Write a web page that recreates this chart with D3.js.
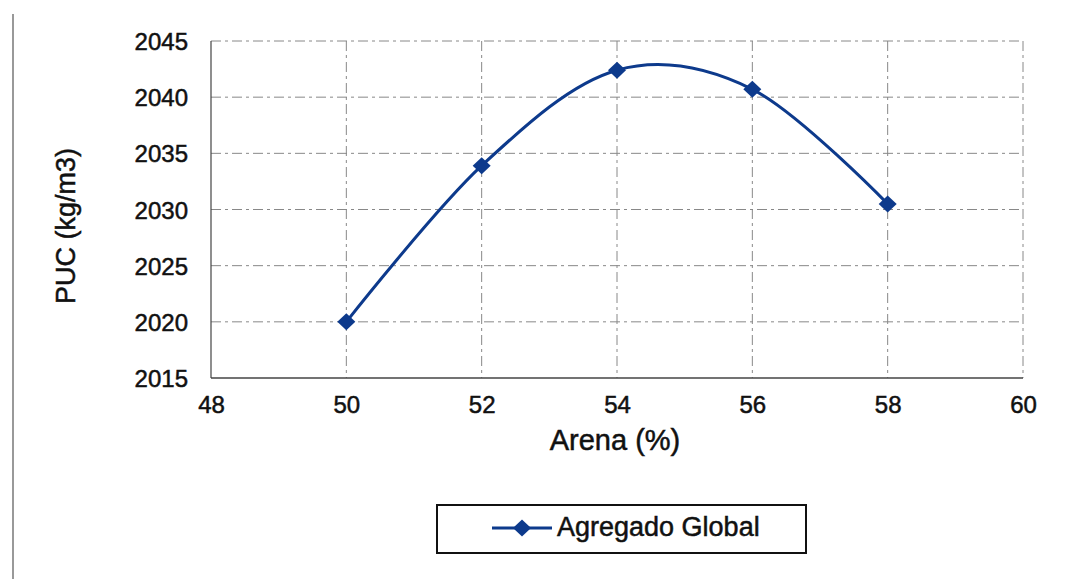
<!DOCTYPE html>
<html>
<head>
<meta charset="utf-8">
<script src="https://cdn.jsdelivr.net/npm/d3@7"></script>
<style>
  html, body { margin: 0; padding: 0; background: #fff; }
  svg { display: block; }
  text { font-family: "Liberation Sans", Arial, sans-serif; fill: #111; }
</style>
</head>
<body>
<svg id="chart" width="1067" height="579"></svg>
<script>
// Arena percentage vs. unit weight (PUC)
const arena = [50, 52, 54, 56, 58];
const puc = [2020.0, 2033.9, 2042.4, 2040.7, 2030.5];
const xTicks = [48, 50, 52, 54, 56, 58, 60];
const yTicks = [2015, 2020, 2025, 2030, 2035, 2040, 2045];
const seriesName = "Agregado Global";

const svg = d3.select("#chart");
const plot = { left: 211, right: 1023, top: 41, bottom: 378 };
const lineColor = "#0d3a8c";
const textStroke = t => t.attr("stroke", "#111").attr("stroke-width", 0.5);

const x = d3.scaleLinear().domain([48, 60]).range([plot.left, plot.right]);
const y = d3.scaleLinear().domain([2015, 2045]).range([plot.bottom, plot.top]);

// Outer frame edge on the left
svg.append("line")
  .attr("x1", 13).attr("x2", 13).attr("y1", 14).attr("y2", 579)
  .attr("stroke", "#777").attr("stroke-width", 1.5);

// Dashed grid
const grid = svg.append("g");
grid.selectAll(".hg").data(yTicks.slice(1)).join("line")
  .attr("x1", plot.left).attr("x2", plot.right)
  .attr("y1", d => y(d)).attr("y2", d => y(d))
  .attr("stroke", "#888").attr("stroke-width", 1).attr("stroke-dasharray", "10,4,3,4");
grid.selectAll(".vg").data(xTicks.slice(1)).join("line")
  .attr("x1", d => x(d)).attr("x2", d => x(d))
  .attr("y1", plot.top).attr("y2", plot.bottom)
  .attr("stroke", "#888").attr("stroke-width", 1).attr("stroke-dasharray", "10,4,3,4");

// Axis lines
svg.append("line").attr("x1", plot.left).attr("x2", plot.right)
  .attr("y1", plot.bottom).attr("y2", plot.bottom).attr("stroke", "#444").attr("stroke-width", 1.5);
svg.append("line").attr("x1", plot.left).attr("x2", plot.left)
  .attr("y1", plot.top).attr("y2", plot.bottom).attr("stroke", "#444").attr("stroke-width", 1.2);

// Axes with tick labels
const xAxis = d3.axisBottom(x).tickValues(xTicks).tickSize(0).tickPadding(18);
const gx = svg.append("g").attr("transform", `translate(0,${plot.bottom})`).call(xAxis);
gx.select(".domain").remove();
gx.selectAll("text").attr("font-size", 24).attr("font-family", "Liberation Sans, Arial, sans-serif")
  .attr("fill", "#111").attr("dy", "0.71em").call(textStroke);

const yAxis = d3.axisLeft(y).tickValues(yTicks).tickSize(0).tickPadding(23).tickFormat(d3.format("d"));
const gy = svg.append("g").attr("transform", `translate(${plot.left},0)`).call(yAxis);
gy.select(".domain").remove();
gy.selectAll("text").attr("font-size", 24).attr("font-family", "Liberation Sans, Arial, sans-serif")
  .attr("fill", "#111").attr("dy", "0.36em").call(textStroke);

// Axis titles
svg.append("text").attr("x", 615).attr("y", 450).attr("text-anchor", "middle")
  .attr("font-size", 29).text("Arena (%)").call(textStroke);
svg.append("text").attr("transform", "translate(75,226) rotate(-90)").attr("text-anchor", "middle")
  .attr("font-size", 27).text("PUC (kg/m3)").call(textStroke);

// Diamond marker, nearly square
const diamondPath = "M0,-8.5L9,0L0,8.5L-9,0Z";

// Smoothed series line
const pts = arena.map((a, i) => [a, puc[i]]);
const line = d3.line().x(d => x(d[0])).y(d => y(d[1])).curve(d3.curveCardinal.tension(0));
svg.append("path").datum(pts).attr("d", line)
  .attr("fill", "none").attr("stroke", lineColor).attr("stroke-width", 3);

svg.selectAll(".pt").data(pts).join("path")
  .attr("transform", d => `translate(${x(d[0])},${y(d[1])})`)
  .attr("d", diamondPath).attr("fill", lineColor);

// Legend
const lg = svg.append("g");
lg.append("rect").attr("x", 437).attr("y", 505).attr("width", 369).attr("height", 48)
  .attr("fill", "#fff").attr("stroke", "#111").attr("stroke-width", 2);
lg.append("line").attr("x1", 492).attr("x2", 552).attr("y1", 528).attr("y2", 528)
  .attr("stroke", lineColor).attr("stroke-width", 3);
lg.append("path").attr("transform", "translate(522,528)")
  .attr("d", diamondPath).attr("fill", lineColor);
lg.append("text").attr("x", 557).attr("y", 536).attr("font-size", 27).text(seriesName).call(textStroke);
</script>
</body>
</html>
